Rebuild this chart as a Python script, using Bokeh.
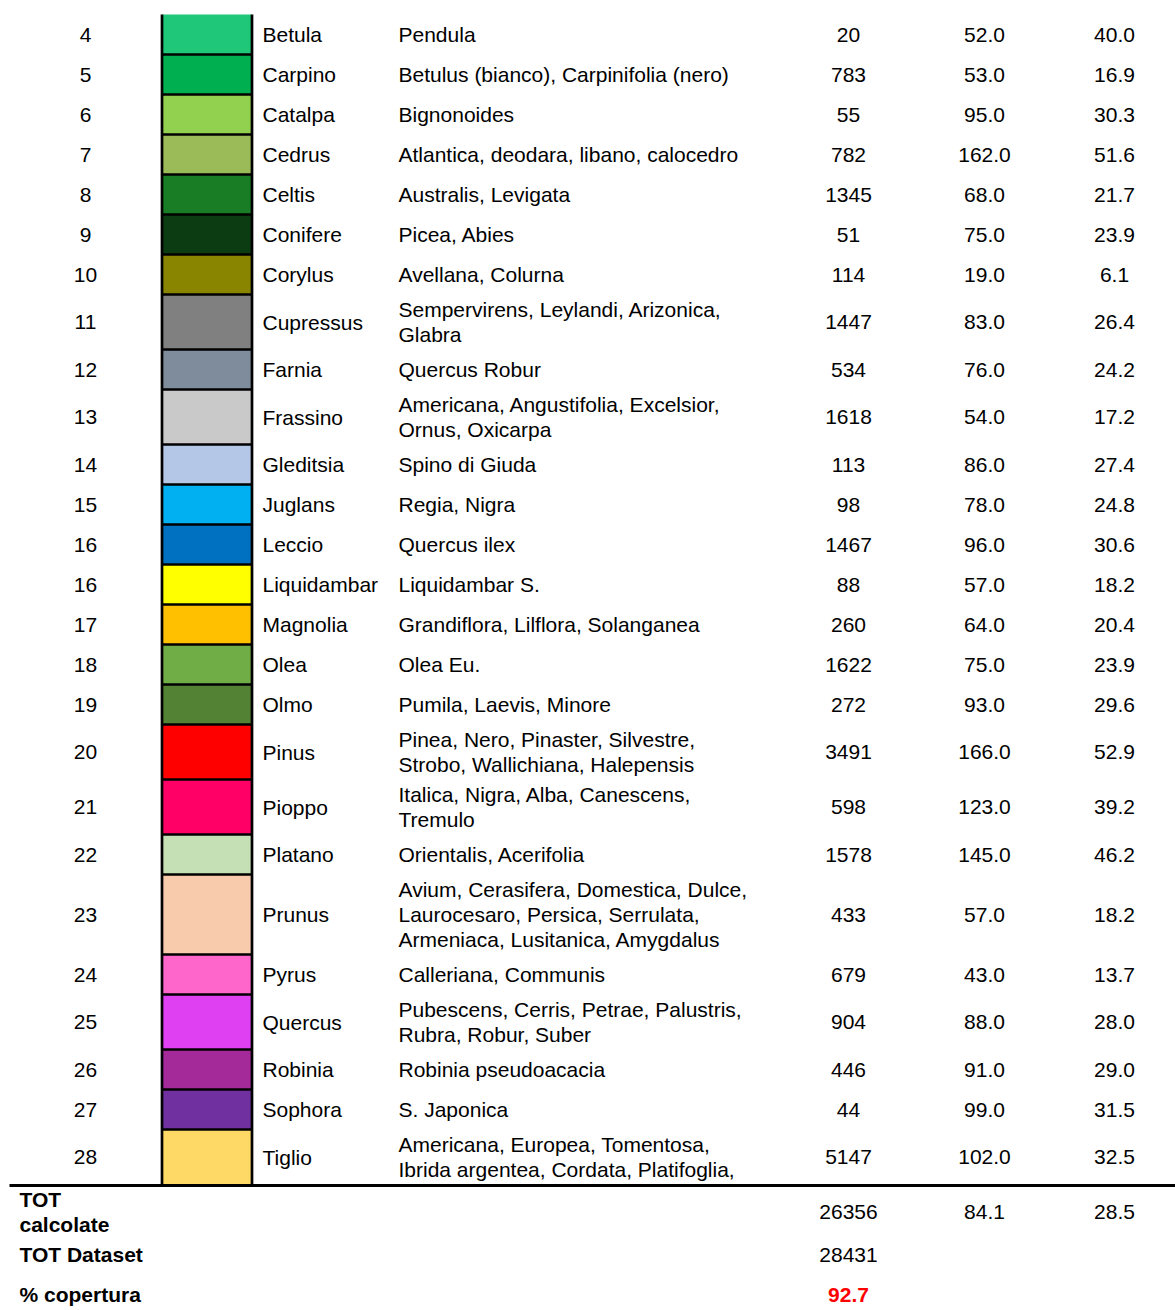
from bokeh.plotting import figure
from bokeh.models import Range1d
from bokeh.core.properties import value
from bokeh.embed import file_html
from bokeh.resources import INLINE

ids = [4, 5, 6, 7, 8, 9, 10, 11, 12, 13, 14, 15, 16, 16, 17, 18, 19, 20, 21, 22,
       23, 24, 25, 26, 27, 28]
genera = ["Betula", "Carpino", "Catalpa", "Cedrus", "Celtis", "Conifere", "Corylus",
          "Cupressus", "Farnia", "Frassino", "Gleditsia", "Juglans", "Leccio",
          "Liquidambar", "Magnolia", "Olea", "Olmo", "Pinus", "Pioppo", "Platano",
          "Prunus", "Pyrus", "Quercus", "Robinia", "Sophora", "Tiglio"]
species = [
    "Pendula",
    "Betulus (bianco), Carpinifolia (nero)",
    "Bignonoides",
    "Atlantica, deodara, libano, calocedro",
    "Australis, Levigata",
    "Picea, Abies",
    "Avellana, Colurna",
    "Sempervirens, Leylandi, Arizonica,\nGlabra",
    "Quercus Robur",
    "Americana, Angustifolia, Excelsior,\nOrnus, Oxicarpa",
    "Spino di Giuda",
    "Regia, Nigra",
    "Quercus ilex",
    "Liquidambar S.",
    "Grandiflora, Lilflora, Solanganea",
    "Olea Eu.",
    "Pumila, Laevis, Minore",
    "Pinea, Nero, Pinaster, Silvestre,\nStrobo, Wallichiana, Halepensis",
    "Italica, Nigra, Alba, Canescens,\nTremulo",
    "Orientalis, Acerifolia",
    "Avium, Cerasifera, Domestica, Dulce,\nLaurocesaro, Persica, Serrulata,\nArmeniaca, Lusitanica, Amygdalus",
    "Calleriana, Communis",
    "Pubescens, Cerris, Petrae, Palustris,\nRubra, Robur, Suber",
    "Robinia pseudoacacia",
    "S. Japonica",
    "Americana, Europea, Tomentosa,\nIbrida argentea, Cordata, Platifoglia,",
]
colors = ["#1FC878", "#00B050", "#92D050", "#9BBB59", "#187D24", "#0C3D12", "#8A8500",
          "#808080", "#7F8C9C", "#C9C9C9", "#B4C7E7", "#00B0F0", "#0070C0",
          "#FFFF00", "#FFC000", "#70AD47", "#548235", "#FF0000", "#FF0066", "#C5E0B4",
          "#F8CBAD", "#FF66CC", "#DF40F2", "#A32A98", "#7030A0", "#FFD966"]
counts = [20, 783, 55, 782, 1345, 51, 114, 1447, 534, 1618, 113, 98, 1467, 88, 260,
          1622, 272, 3491, 598, 1578, 433, 679, 904, 446, 44, 5147]
heights = [52.0, 53.0, 95.0, 162.0, 68.0, 75.0, 19.0, 83.0, 76.0, 54.0, 86.0, 78.0,
           96.0, 57.0, 64.0, 75.0, 93.0, 166.0, 123.0, 145.0, 57.0, 43.0, 88.0, 91.0,
           99.0, 102.0]
third = [40.0, 16.9, 30.3, 51.6, 21.7, 23.9, 6.1, 26.4, 24.2, 17.2, 27.4, 24.8, 30.6,
         18.2, 20.4, 23.9, 29.6, 52.9, 39.2, 46.2, 18.2, 13.7, 28.0, 29.0, 31.5, 32.5]

footer_labels = ["TOT\ncalcolate", "TOT Dataset", "% copertura"]
tot_calc = [26356, 84.1, 28.5]
tot_dataset = 28431
coverage = 92.7

FONT = value("Liberation Sans")
FS = value("21px")
LINE = 25
TOP = 14
ROW_H = {1: 40, 2: 55, 3: 80}
X_ID, X_SW0, X_SW1, X_GEN, X_SPE, X_CNT, X_HT, X_TH = 85, 161.5, 251.5, 262, 398, 848, 984, 1114

tops, bottoms, centers = [], [], []
y = TOP
for s in species:
    n = s.count("\n") + 1
    tops.append(y)
    y += ROW_H[n]
    bottoms.append(y)
    centers.append((tops[-1] + bottoms[-1]) / 2)

p = figure(width=1175, height=1310, output_backend="svg", toolbar_location=None,
           x_range=Range1d(0, 1175), y_range=Range1d(1310, 0),
           x_axis_location=None, y_axis_location=None, min_border=0,
           outline_line_color=None, background_fill_color="white",
           border_fill_color="white")
p.grid.visible = False

# swatches
p.quad(left=X_SW0, right=X_SW1, top=tops, bottom=bottoms, fill_color=colors,
       line_color=None)
p.segment(x0=[X_SW0] * (len(bottoms) - 1), x1=[X_SW1] * (len(bottoms) - 1),
          y0=bottoms[:-1], y1=bottoms[:-1], line_color="black", line_width=2.5)
p.segment(x0=[X_SW0, X_SW1], x1=[X_SW0, X_SW1], y0=[TOP, TOP],
          y1=[bottoms[-1], bottoms[-1]], line_color="black", line_width=2.7)
p.segment(x0=[9], x1=[1175], y0=[bottoms[-1] + 1], y1=[bottoms[-1] + 1],
          line_color="black", line_width=3)

common = dict(text_font=FONT, text_font_size=FS, text_baseline="middle",
              text_color="#000000")

p.text(x=[X_ID] * len(ids), y=centers, text=[str(i) for i in ids],
       text_align="center", **common)
p.text(x=[X_GEN] * len(genera), y=centers, text=genera, text_align="left", **common)

sx, sy, st = [], [], []
for s, c in zip(species, centers):
    lines = s.split("\n")
    n = len(lines)
    for i, ln in enumerate(lines):
        sx.append(X_SPE)
        sy.append(c + (i - (n - 1) / 2) * LINE)
        st.append(ln)
p.text(x=sx, y=sy, text=st, text_align="left", **common)

p.text(x=[X_CNT] * len(counts), y=centers, text=[str(v) for v in counts],
       text_align="center", **common)
p.text(x=[X_HT] * len(heights), y=centers, text=["%.1f" % v for v in heights],
       text_align="center", **common)
p.text(x=[X_TH] * len(third), y=centers, text=["%.1f" % v for v in third],
       text_align="center", **common)

# footer
fb = bottoms[-1]
f_centers = [fb + 27, fb + 70, fb + 110]
lx, ly, lt = [], [], []
for lab, c in zip(footer_labels, f_centers):
    lines = lab.split("\n")
    n = len(lines)
    for i, ln in enumerate(lines):
        lx.append(19)
        ly.append(c + (i - (n - 1) / 2) * LINE)
        lt.append(ln)
p.text(x=lx, y=ly, text=lt, text_align="left", text_font_style="bold", **common)

p.text(x=[X_CNT, X_HT, X_TH], y=[f_centers[0]] * 3,
       text=[str(tot_calc[0]), "%.1f" % tot_calc[1], "%.1f" % tot_calc[2]],
       text_align="center", **common)
p.text(x=[X_CNT], y=[f_centers[1]], text=[str(tot_dataset)], text_align="center",
       **common)
p.text(x=[X_CNT], y=[f_centers[2]], text=["%.1f" % coverage], text_align="center",
       text_font=FONT, text_font_size=FS, text_baseline="middle",
       text_color="#FF0000", text_font_style="bold")

open("out.html", "w").write(file_html(p, INLINE))
